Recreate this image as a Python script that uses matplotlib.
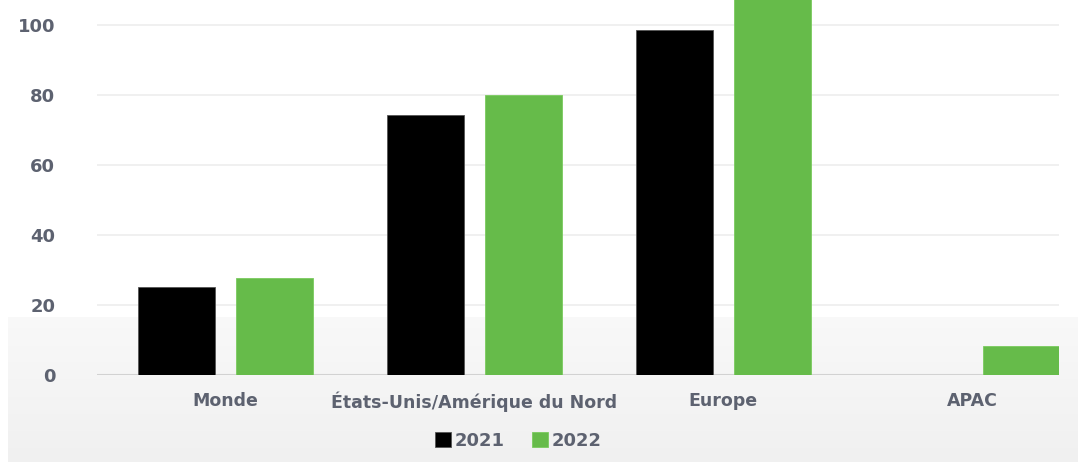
import matplotlib
matplotlib.use("Agg")
import matplotlib.pyplot as plt
import numpy as np

categories = ["Monde", "États-Unis/Amérique du Nord", "Europe", "APAC"]
series_names = ["2021", "2022"]
values_2021 = [25.1, 74.3, 98.6, 0]
values_2022 = [27.7, 80.0, 115.0, 8.3]
yticks = [0, 20, 40, 60, 80, 100]

plt.rcParams['font.family'] = ['DejaVu Sans']
text_color = '#5d6270'

W, H = 1078, 462
fig = plt.figure(figsize=(W / 100, H / 100), dpi=100)

# light gray gradient band at the bottom
bg = fig.add_axes([8 / W, 0, 1 - 8 / W, 1 - 317 / H], zorder=-10)
grad = np.linspace(0.975, 0.942, 100).reshape(-1, 1)
bg.imshow(np.dstack([grad, grad, grad]), aspect='auto', extent=[0, 1, 0, 1])
bg.set_axis_off()

ax = fig.add_axes([97 / W, 1 - 375 / H, (1059 - 97) / W, 375 / H])
ax.set_facecolor('none')

x = np.arange(len(categories))
w = 0.31
off = 0.197
ax.bar(x - off, values_2021, w, color='#000000', edgecolor='#555555', linewidth=0.6,
       label=series_names[0], zorder=3)
ax.bar(x + off, values_2022, w, color='#66bb4a', edgecolor='#7acb5e', linewidth=0.6,
       label=series_names[1], zorder=3)

ax.set_xlim(-0.517, 3.349)
ax.set_ylim(0, 107.1)
ax.set_yticks(yticks)
ax.set_xticks(x)
ax.set_xticklabels(categories)
for sp in ax.spines.values():
    sp.set_visible(False)
ax.grid(axis='y', color='#ededed', linewidth=1.2, zorder=0)
ax.axhline(0, color='#d2d2d2', linewidth=1.5, zorder=2)
ax.tick_params(axis='both', length=0, colors=text_color)
ax.tick_params(axis='y', pad=30, labelsize=13)
ax.tick_params(axis='x', pad=12, labelsize=12.5)
for lab in ax.get_xticklabels() + ax.get_yticklabels():
    lab.set_fontweight('bold')
    lab.set_color(text_color)

leg = fig.legend(loc='center', bbox_to_anchor=(518 / W, 1 - 441 / H), ncol=2, frameon=False,
                 handlelength=0.9, handleheight=0.9, handletextpad=0.2, columnspacing=1.5,
                 prop={'weight': 'bold', 'size': 13})
for t in leg.get_texts():
    t.set_color(text_color)

fig.savefig("out.png", dpi=100)
